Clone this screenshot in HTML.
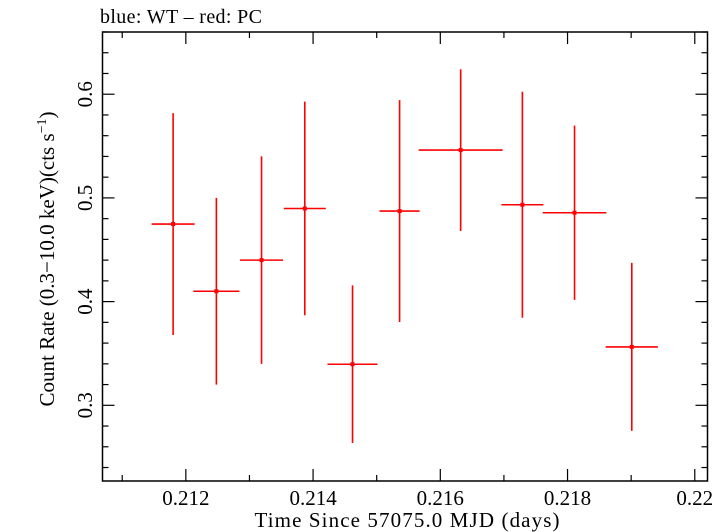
<!DOCTYPE html>
<html><head><meta charset="utf-8"><style>
html,body{margin:0;padding:0;background:#fff;}
svg{display:block;font-family:"Liberation Serif",serif;}
</style></head><body>
<svg id="chart" width="726" height="532" viewBox="0 0 726 532">
<text x="100" y="23" font-size="20" textLength="162">blue: WT – red: PC</text>
<rect x="102.5" y="32" width="605" height="449" fill="none" stroke="#000" stroke-width="1.5"/>
<g id="ticks"></g>
<g id="marks"></g>
<text x="407" y="527" font-size="21" text-anchor="middle" textLength="305">Time Since 57075.0 MJD (days)</text>
<text transform="translate(54,259) rotate(-90)" font-size="21" text-anchor="middle">Count Rate (0.3−10.0 keV)(cts s<tspan dy="-8" font-size="14">−1</tspan><tspan dy="8">)</tspan></text>
</svg>
<script>
const times=[0.2118,0.21248,0.21319,0.21387,0.21462,0.21536,0.21632,0.21729,0.21811,0.21901];
const halfWidths=[0.000338,0.000362,0.000338,0.00033,0.000393,0.000315,0.00066,0.00033,0.0005,0.00041];
const rates=[0.4748,0.410,0.440,0.4898,0.3396,0.4873,0.5461,0.4934,0.4857,0.3563];
const rateErrors=[0.107,0.090,0.100,0.103,0.076,0.107,0.078,0.109,0.084,0.081];
const xTickLabels=["0.212","0.214","0.216","0.218","0.22"];
const yTickLabels=["0.3","0.4","0.5","0.6"];
const X0=102.5,X1=707.5,Y0=481,Y1=32;
const xMin=0.21069,xMax=0.22020,yMin=0.2270,yMax=0.6600;
function xs(v){return X0+(v-xMin)/(xMax-xMin)*(X1-X0);}
function ys(v){return Y0-(v-yMin)/(yMax-yMin)*(Y0-Y1);}
const NS="http://www.w3.org/2000/svg";
const tg=document.getElementById('ticks'),mg=document.getElementById('marks');
function ln(p,x1,y1,x2,y2,c,w){const l=document.createElementNS(NS,'line');l.setAttribute('x1',x1);l.setAttribute('y1',y1);l.setAttribute('x2',x2);l.setAttribute('y2',y2);l.setAttribute('stroke',c);l.setAttribute('stroke-width',w);p.appendChild(l);return l;}
for(let k=0;k<=10;k++){const v=0.211+k*0.001;if(v>xMax+1e-9)break;const x=xs(v);const major=k%2===1;const len=major?12:6;
const a=ln(tg,x,Y0,x,Y0-len,'#000',1.2);


const b=ln(tg,x,Y1,x,Y1+len,'#000',1.2);

}
xTickLabels.forEach(s=>{const t=document.createElementNS(NS,'text');t.setAttribute('x',xs(parseFloat(s)));t.setAttribute('y',505);t.setAttribute('font-size','21');t.setAttribute('text-anchor','middle');t.textContent=s;


tg.appendChild(t);});
for(let k=0;k<30;k++){const v=0.24+k*0.02;if(v>yMax)break;const y=ys(v);const major=Math.abs((v*10)-Math.round(v*10))<1e-6;const len=major?12:6;
const a=ln(tg,X0,y,X0+len,y,'#000',1.2);


const b=ln(tg,X1,y,X1-len,y,'#000',1.2);

}
yTickLabels.forEach(s=>{const t=document.createElementNS(NS,'text');const y=ys(parseFloat(s));t.setAttribute('transform','translate(92,'+y+') rotate(-90)');t.setAttribute('font-size','21');t.setAttribute('text-anchor','middle');t.textContent=s;


tg.appendChild(t);});
times.forEach((t,i)=>{const g=document.createElementNS(NS,'g');


const cx=xs(t),cy=ys(rates[i]);
ln(g,xs(t-halfWidths[i]),cy,xs(t+halfWidths[i]),cy,'#f00',1.6);
ln(g,cx,ys(rates[i]+rateErrors[i]),cx,ys(rates[i]-rateErrors[i]),'#f00',1.6);
const r=document.createElementNS(NS,'rect');r.setAttribute('x',cx-2);r.setAttribute('y',cy-2);r.setAttribute('width',4);r.setAttribute('height',4);r.setAttribute('fill','#f00');g.appendChild(r);
mg.appendChild(g);});
</script>
</body></html>
